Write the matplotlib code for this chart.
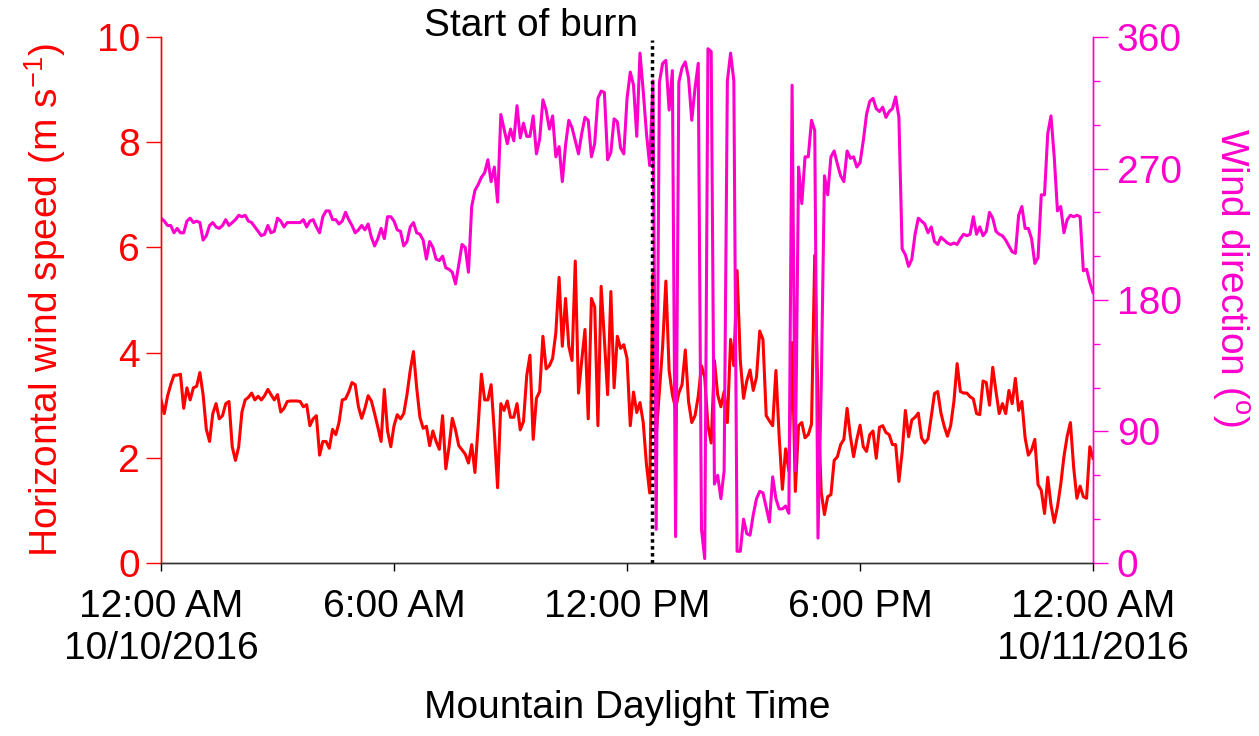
import numpy as np
import pandas as pd
import matplotlib
matplotlib.use("Agg")
import matplotlib.pyplot as plt
import matplotlib.dates as mdates
from matplotlib.ticker import MultipleLocator
import matplotlib.transforms as mtransforms

plt.rcParams['font.family'] = ['Liberation Sans', 'DejaVu Sans']
plt.rcParams['mathtext.fontset'] = 'custom'
plt.rcParams['mathtext.rm'] = 'Liberation Sans'

RED = '#FF0000'
MAGENTA = '#FF00CC'
FONTSIZE = 28

# 5-minute samples, 10/10/2016 00:00 -> 10/11/2016 00:00 (MDT)
times = pd.date_range('2016-10-10 00:00', '2016-10-11 00:00', freq='5min')

# horizontal wind speed (m/s)
wind_speed = [
    3.10, 2.84, 3.17, 3.39, 3.57, 3.57, 3.59, 2.94, 3.33, 3.10,
    3.33, 3.36, 3.62, 3.20, 2.54, 2.31, 2.84, 3.03, 2.74, 2.80,
    3.03, 3.07, 2.21, 1.95, 2.21, 2.87, 3.10, 3.15, 3.23, 3.10,
    3.17, 3.10, 3.18, 3.30, 3.20, 3.10, 3.20, 2.87, 2.94, 3.07,
    3.08, 3.08, 3.08, 3.07, 2.97, 3.01, 2.61, 2.74, 2.80,
    2.05, 2.31, 2.31, 2.18, 2.54, 2.44, 2.67, 3.10, 3.12, 3.25,
    3.43, 3.39, 2.97, 2.75, 2.94, 3.18, 3.08, 2.84, 2.58, 2.31,
    3.30, 2.51, 2.21, 2.61, 2.82, 2.74, 2.84, 3.20, 3.66, 4.02,
    3.33, 2.77, 2.56, 2.60, 2.23, 2.51, 2.31, 2.16, 2.80, 1.79,
    2.21, 2.75, 2.53, 2.23, 2.15, 2.07, 1.90, 2.25,
    1.72, 2.61, 3.59, 3.10, 3.10, 3.39, 2.48, 1.43, 3.03, 2.90,
    3.08, 2.77, 2.77, 3.03, 2.53, 2.69, 3.56, 3.95, 2.35, 3.13,
    3.26, 4.31, 3.69, 3.75, 3.89, 4.38, 5.43, 4.12, 5.03, 4.12,
    3.85, 5.74, 3.23, 3.85, 4.44, 2.74, 5.03, 4.87, 2.61, 5.26,
    4.25, 3.20, 5.16, 3.33, 4.31, 4.08, 4.15, 3.89, 2.61,
    3.25, 2.86, 3.05, 2.67, 1.87, 1.33, 5.50, 2.41, 3.26, 4.12,
    5.36, 3.66, 3.20, 2.94, 3.23, 3.39, 4.05, 3.07, 2.67, 2.80,
    3.17, 3.75, 3.53, 2.61, 2.28, 3.85, 3.20, 2.97, 3.26, 2.67,
    4.25, 3.75, 5.56, 3.85, 3.13, 3.46, 3.67, 3.28, 3.53, 4.41,
    4.25, 2.80, 2.70, 2.61, 3.66, 2.41, 1.40, 2.17,
    1.75, 4.19, 1.36, 2.61, 2.67, 2.38, 2.44, 2.64, 5.85, 3.07,
    1.35, 0.92, 1.26, 1.30, 1.95, 2.02, 2.25, 2.35, 2.94, 2.41,
    2.02, 2.35, 2.62, 2.21, 2.12, 2.44, 2.51, 1.99, 2.58, 2.61,
    2.48, 2.44, 2.25, 2.25, 1.55, 2.10, 2.90, 2.40, 2.72, 2.77,
    2.85, 2.38, 2.28, 2.36, 2.78, 3.22, 3.26, 2.85, 2.60,
    2.41, 2.61, 3.07, 3.79, 3.26, 3.23, 3.23, 3.16, 3.12, 2.84,
    2.82, 3.46, 3.43, 3.00, 3.72, 3.26, 2.84, 3.03, 2.84, 3.28,
    3.03, 3.51, 2.90, 3.07, 2.38, 2.05, 2.15, 2.35, 1.49, 1.38,
    0.94, 1.63, 1.10, 0.77, 1.07, 1.49, 2.02, 2.41, 2.67, 1.82,
    1.23, 1.46, 1.26, 1.23, 2.21, 1.99,
]

# wind direction (degrees)
wind_dir = [
    236, 234, 231, 231, 226, 229, 226, 226, 234, 236,
    233, 234, 233, 221, 224, 231, 233, 230, 229, 231,
    235, 231, 233, 235, 238, 237, 238, 234, 233, 230,
    227, 224, 225, 231, 226, 227, 236, 234, 230, 233,
    233, 233, 233, 233, 235, 230, 234, 235, 230,
    226, 237, 241, 241, 235, 235, 232, 234, 240, 235,
    231, 226, 228, 231, 228, 232, 223, 217, 222, 229,
    222, 237, 237, 234, 228, 227, 217, 220, 230, 233,
    226, 225, 221, 208, 220, 216, 208, 207, 210, 202,
    201, 199, 191, 204, 218, 216, 199, 244,
    255, 259, 264, 267, 276, 261, 271, 247, 307, 297,
    287, 297, 289, 313, 291, 301, 292, 292, 306, 280,
    290, 317, 310, 297, 306, 278, 285, 261, 286, 303,
    298, 289, 280, 294, 305, 303, 278, 287, 318, 323,
    322, 276, 281, 304, 302, 284, 280, 318, 336,
    327, 292, 349, 323, 294, 272, 330, 23, 329, 342,
    344, 310, 337, 18, 329, 339, 343, 332, 303, 325,
    342, 23, 3, 352, 350, 54, 60, 44, 63, 330,
    349, 330, 8, 8, 30, 20, 19, 33, 44, 49,
    48, 38, 28, 59, 44, 37, 37, 39,
    34, 327, 63, 271, 246, 278, 278, 303, 296, 17,
    120, 265, 252, 278, 282, 273, 265, 261, 282, 277,
    278, 271, 274, 289, 307, 316, 318, 311, 309, 312,
    305, 309, 311, 319, 305, 215, 211, 203, 208, 225,
    236, 234, 232, 226, 230, 220, 218, 223, 221,
    219, 218, 219, 218, 222, 225, 224, 225, 237, 225,
    230, 224, 227, 240, 236, 227, 225, 224, 221, 217,
    213, 212, 238, 244, 229, 229, 222, 205, 209, 252,
    252, 294, 306, 278, 241, 244, 226, 235, 238, 237,
    238, 237, 200, 201, 192, 185,
]

burn_start = pd.Timestamp('2016-10-10 12:39')

tick_times = pd.to_datetime(['2016-10-10 00:00', '2016-10-10 06:00', '2016-10-10 12:00',
                             '2016-10-10 18:00', '2016-10-11 00:00'])
tick_labels = ['12:00 AM\n10/10/2016', '6:00 AM', '12:00 PM', '6:00 PM', '12:00 AM\n10/11/2016']

fig = plt.figure(figsize=(12.59, 7.36), dpi=100)
ax = fig.add_axes([0.1279, 0.2351, 0.7403, 0.7146])
ax2 = ax.twinx()

ax.plot(times, wind_speed, color=RED, lw=2.2)
ax2.plot(times, wind_dir, color=MAGENTA, lw=2.2)

burn_x = mdates.date2num(burn_start)
ax2.axvline(burn_x, ymin=0, ymax=0.995, color='black', ls=(0, (1, 1)), lw=2.5, zorder=5)
ax2.annotate('Start of burn', xy=(burn_x, 1.0),
             xycoords=mtransforms.blended_transform_factory(ax2.transData, ax2.transAxes),
             xytext=(-10, 1), textcoords='offset points',
             ha='right', va='baseline', fontsize=FONTSIZE, color='black')

ax.set_xlim(tick_times[0], tick_times[-1])
ax.set_ylim(0, 10)
ax2.set_ylim(0, 360)

ax.set_xticks(tick_times)
ax.set_xticklabels(tick_labels, fontsize=FONTSIZE)
ax.set_yticks(range(0, 11, 2))
ax2.set_yticks([0, 90, 180, 270, 360])
ax2.yaxis.set_minor_locator(MultipleLocator(30))

ax.tick_params(axis='x', length=6, width=1, color='black', pad=13, labelcolor='black')
ax.tick_params(axis='y', length=11, width=1, color=RED, labelcolor=RED, labelsize=FONTSIZE, pad=4)
ax2.tick_params(axis='y', which='major', length=11, width=1, color=MAGENTA,
                labelcolor=MAGENTA, labelsize=FONTSIZE, pad=6)
ax2.tick_params(axis='y', which='minor', length=5, width=1, color=MAGENTA)

for a in (ax, ax2):
    a.spines['top'].set_visible(False)
    a.spines['left'].set_color(RED)
    a.spines['right'].set_color(MAGENTA)
    a.spines['bottom'].set_color('#333333')
    for s in a.spines.values():
        s.set_linewidth(1)

fig.text(45 / 1259, 1 - 300 / 736, r'Horizontal wind speed (m s$^{\mathregular{-1}}$)',
         rotation=90, ha='center', va='center', color=RED, fontsize=FONTSIZE)
fig.text(1230 / 1259, 1 - 278 / 736, r'Wind direction ($^{\mathregular{o}}$)',
         rotation=270, ha='center', va='center', color=MAGENTA, fontsize=FONTSIZE)
fig.text(627 / 1259, 1 - 708 / 736, 'Mountain Daylight Time',
         ha='center', va='center', color='black', fontsize=FONTSIZE)

fig.savefig('out.png', dpi=100)
